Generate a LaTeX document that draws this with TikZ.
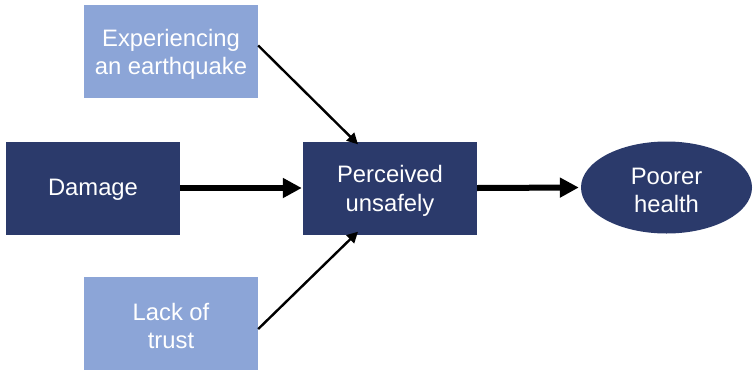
\documentclass[tikz,border=0pt]{standalone}
\usepackage{fontspec}
\setmainfont{Liberation Sans}
\usetikzlibrary{arrows.meta,calc,shapes.geometric}
\definecolor{lightbox}{HTML}{8CA5D7}
\definecolor{darkbox}{HTML}{2B3A6B}
\begin{document}
\begin{tikzpicture}[x=1pt,y=-1pt,
  boxbase/.style={minimum width=174pt,minimum height=93pt,inner sep=0pt},
  lightnode/.style={boxbase,fill=lightbox},
  darknode/.style={boxbase,fill=darkbox},
  labeltext/.style={align=center,text=white,inner sep=0pt,
    font=\fontsize{23.8pt}{28.5pt}\selectfont},
  thinarrow/.style={line width=2.4pt,-{Triangle[length=11pt,width=11pt]}},
  thickarrow/.style={line width=6pt,-{Triangle[length=19pt,width=19pt]}}]
\useasboundingbox (0,0) rectangle (754,370);
\node[lightnode] (exp) at (171,51.5) {};
\node[darknode] (dam) at (93,188) {};
\node[lightnode] (lack) at (171,323) {};
\node[darknode] (per) at (390,188) {};
\node[ellipse,fill=darkbox,minimum width=171pt,minimum height=92pt,inner sep=0pt] (ph) at (666.5,187.5) {};
\node[labeltext,yshift=-3pt] (expt) at (exp.center) {Experiencing\\an earthquake};
\node[labeltext,yshift=-2pt] (damt) at (dam.center) {Damage};
\node[labeltext,yshift=-3pt] (lackt) at (lack.center) {Lack of\\trust};
\node[labeltext,yshift=-3pt] (pert) at (per.center) {Perceived\\unsafely};
\node[labeltext,yshift=-3pt] (pht) at (ph.center) {Poorer\\health};
\draw[thinarrow] ([yshift=6pt]exp.east) -- ([xshift=-32pt,yshift=-3pt]per.north);
\draw[thinarrow] ([yshift=-6pt]lack.east) -- ([xshift=-32pt,yshift=3pt]per.south);
\draw[thickarrow] (dam.east) -- ([xshift=-1pt]per.west);
\draw[thickarrow] (per.east) -- ([xshift=-2pt]ph.west);
\end{tikzpicture}
\end{document}
